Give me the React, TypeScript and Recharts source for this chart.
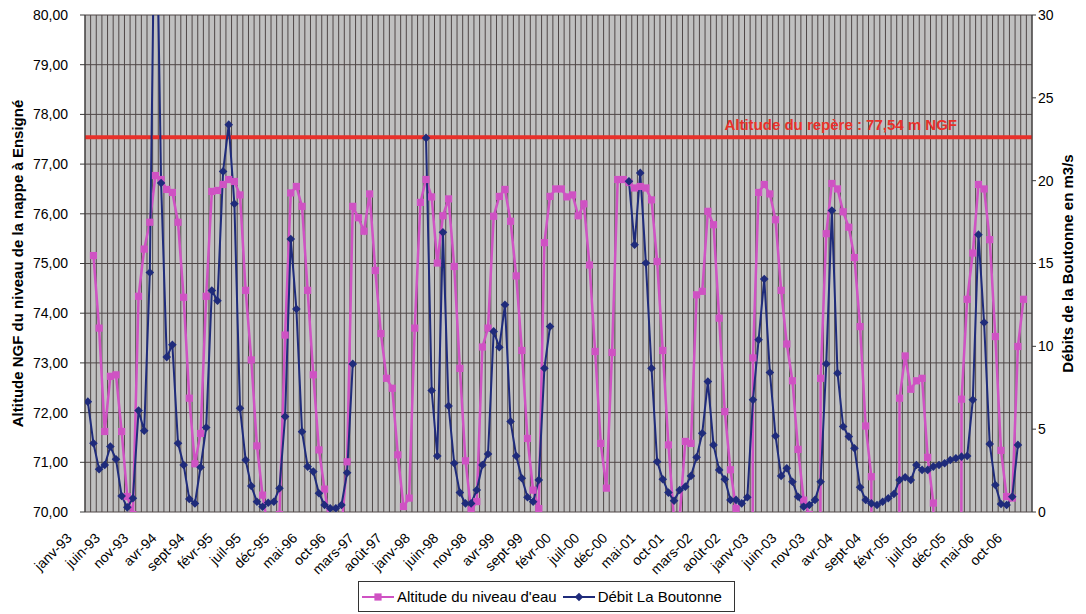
import React from 'react';
import { CartesianGrid, Legend, Line, LineChart, ReferenceLine, XAxis, YAxis } from 'recharts';

// Nappe d'Ensigné : altitude piézométrique (axe gauche) et débit de la Boutonne (axe droit),
// relevés mensuels janv-93 → déc-06, avec la cote du repère en rouge.

const FONT = '"Liberation Sans", Arial, sans-serif';
const PINK = '#CF52C3';
const NAVY = '#1F2B7B';
const RED = '#E8302A';
const PLOT_BG = '#C0C0C0';
const GRID = '#4f4747';
const AXIS = '#3a3a3a';

const MOIS = ['janv', 'févr', 'mars', 'avr', 'mai', 'juin', 'juil', 'août', 'sept', 'oct', 'nov', 'déc'];
const ANNEES = ['93', '94', '95', '96', '97', '98', '99', '00', '01', '02', '03', '04', '05', '06'];
const MONTHS = ANNEES.flatMap((a) => MOIS.map((m) => `${m}-${a}`));

// Altitude du niveau d'eau (m NGF) ; 0 = relevé manquant saisi à zéro
const ALTITUDE: (number | null)[] = [
  null, 75.16, 73.7, 71.62, 72.73, 72.76, 71.62, 70.31, 69.95, 74.34, 75.29, 75.83,
  76.77, 76.69, 76.49, 76.43, 75.83, 74.32, 72.29, 70.97, 71.58, 74.34, 76.45, 76.47,
  76.59, 76.69, 76.65, 76.38, 74.46, 73.06, 71.33, 70.34, 69.66, 69.6, 69.95, 73.56,
  76.42, 76.55, 76.15, 74.46, 72.76, 71.25, 70.46, 69.7, 69.6, 69.66, 71.01, 76.15,
  75.92, 75.65, 76.4, 74.86, 73.59, 72.69, 72.49, 71.15, 70.11, 70.28, 73.7, 76.23,
  76.69, 76.34, 75.01, 75.96, 76.3, 74.94, 72.89, 71.03, 70.04, 70.21, 73.32, 73.7,
  75.95, 76.35, 76.49, 75.85, 74.75, 73.25, 71.48, 70.44, 70.07, 75.42, 76.35, 76.5,
  76.5, 76.34, 76.38, 75.96, 76.2, 74.97, 73.23, 71.38, 70.48, 73.21, 76.69, 76.69,
  76.63, 76.52, 76.55, 76.52, 76.28, 75.04, 73.25, 71.35, 69.85, 69.9, 71.42, 71.38,
  74.37, 74.44, 76.05, 75.78, 73.9, 72.02, 70.85, 70.07, 0, 0, 73.1, 76.43,
  76.59, 76.4, 75.88, 74.46, 73.38, 72.64, 71.26, 70.24, 69.95, 0, 72.69, 75.6,
  76.61, 76.5, 76.04, 75.73, 75.12, 73.73, 71.73, 70.71, 0, 0, 0, 0,
  72.29, 73.14, 72.47, 72.64, 72.69, 71.1, 70.18, 0, 0, 0, 0, 72.27,
  74.28, 75.21, 76.59, 76.5, 75.48, 73.53, 71.24, 70.31, 70.28, 73.33, 74.28, null,
];

// Débit La Boutonne (m3/s)
const DEBIT: (number | null)[] = [
  6.66, 4.15, 2.58, 2.84, 3.95, 3.18, 0.97, 0.28, 0.83, 6.12, 4.91, 14.46,
  41, 19.86, 9.35, 10.09, 4.15, 2.84, 0.79, 0.52, 2.7, 5.1, 13.37, 12.75,
  20.56, 23.38, 18.61, 6.26, 3.14, 1.57, 0.62, 0.32, 0.56, 0.62, 1.43, 5.76,
  16.48, 12.25, 4.85, 2.74, 2.44, 1.13, 0.42, 0.22, 0.22, 0.42, 2.37, 8.94,
  null, null, null, null, null, null, null, null, null, null, null, null,
  22.58, 7.33, 3.38, 16.88, 6.4, 2.94, 1.17, 0.52, 0.52, 1.33, 2.84, 3.5,
  10.9, 9.95, 12.51, 5.46, 3.38, 2.04, 0.89, 0.62, 1.93, 8.68, 11.2, null,
  null, null, null, null, null, null, null, null, null, null, null, null,
  19.96, 16.13, 20.47, 15.03, 8.68, 3.04, 1.98, 1.17, 0.68, 1.33, 1.53, 2.18,
  3.3, 4.75, 7.87, 4.05, 2.54, 1.98, 0.73, 0.73, 0.52, 0.89, 6.77, 10.4,
  14.06, 8.42, 4.59, 2.18, 2.64, 1.83, 0.92, 0.32, 0.42, 0.73, 1.83, 8.94,
  18.2, 8.38, 5.16, 4.55, 3.85, 1.49, 0.73, 0.52, 0.42, 0.62, 0.83, 1.09,
  1.93, 2.1, 1.93, 2.84, 2.54, 2.54, 2.74, 2.84, 2.94, 3.14, 3.24, 3.34,
  3.38, 6.77, 16.74, 11.44, 4.11, 1.63, 0.48, 0.42, 0.92, 4.05, null, null,
];

const ALT_TICKS = [70, 71, 72, 73, 74, 75, 76, 77, 78, 79, 80];
const DEBIT_TICKS = [0, 5, 10, 15, 20, 25, 30];
const REPERE = 77.54;

const N = MONTHS.length;
const LABEL_TICKS = MONTHS.map((_, i) => i).filter((i) => i % 5 === 0);
const CELL_EDGES = Array.from({ length: N + 1 }, (_, k) => k - 0.5);
const X_DOMAIN = [-0.5, N - 0.5];

const data = MONTHS.map((mois, i) => ({ idx: i, mois, altitude: ALTITUDE[i], debit: DEBIT[i] }));

const fr = (v: number, d: number) => v.toFixed(d).replace('.', ',');

const NoLabel = () => <g />;

const Square = (p: any) => {
  if (p.cx == null || p.cy == null) return <g key={`sq-${p.index}`} />;
  return <rect key={`sq-${p.index}`} x={p.cx - 3.6} y={p.cy - 3.6} width={7.2} height={7.2} fill={PINK} />;
};

const Diamond = (p: any) => {
  if (p.cx == null || p.cy == null) return <g key={`dm-${p.index}`} />;
  const { cx, cy } = p;
  return (
    <polygon
      key={`dm-${p.index}`}
      points={`${cx},${cy - 4.3} ${cx + 4.3},${cy} ${cx},${cy + 4.3} ${cx - 4.3},${cy}`}
      fill={NAVY}
    />
  );
};

function RepereLabel({ viewBox }: any) {
  if (!viewBox) return null;
  return (
    <text
      x={viewBox.x + viewBox.width - 75}
      y={viewBox.y - 7}
      textAnchor="end"
      fill={RED}
      fontWeight="bold"
      fontSize={15}
      fontFamily={FONT}
    >
      {`Altitude du repère : ${fr(REPERE, 2)} m NGF`}
    </text>
  );
}

function LegendBox({ payload }: any) {
  return (
    <div
      style={{
        display: 'inline-flex',
        alignItems: 'center',
        border: '1px solid #333',
        background: '#fff',
        padding: '6px 6px 6px 3px',
        fontFamily: FONT,
        fontSize: 15,
        color: '#000',
        whiteSpace: 'nowrap',
      }}
    >
      {(payload ?? []).map((e: any) => (
        <span key={e.value} style={{ display: 'inline-flex', alignItems: 'center', marginRight: 6 }}>
          <svg width={32} height={10}>
            <line x1={0} y1={5} x2={32} y2={5} stroke={e.color} strokeWidth={2} />
            {e.dataKey === 'altitude' ? (
              <rect x={12.4} y={1.4} width={7.2} height={7.2} fill={e.color} />
            ) : (
              <polygon points="16,0.7 20.3,5 16,9.3 11.7,5" fill={e.color} />
            )}
          </svg>
          <span style={{ marginLeft: 3 }}>{e.value}</span>
        </span>
      ))}
    </div>
  );
}

const axisTitle = { textAnchor: 'middle', fontWeight: 'bold', fontSize: 15, fill: '#000', fontFamily: FONT } as const;

export default function App() {
  return (
    <div style={{ position: 'absolute', left: 0, top: 0, width: 1086, height: 614, background: '#fff' }}>
      <LineChart width={1086} height={614} data={data} margin={{ top: 15, right: 0, bottom: 0, left: 0 }}>
        <CartesianGrid xAxisId="cells" yAxisId="alt" fill={PLOT_BG} fillOpacity={1} stroke={GRID} strokeWidth={1} />
        {/* month boundaries: grid lines and the small ticks under the axis */}
        <XAxis
          xAxisId="cells"
          dataKey="idx"
          type="number"
          domain={X_DOMAIN}
          allowDataOverflow
          ticks={CELL_EDGES}
          interval={0}
          height={0}
          tick={NoLabel}
          tickSize={4}
          tickLine={{ stroke: AXIS }}
          axisLine={{ stroke: AXIS }}
        />
        <XAxis
          xAxisId="m"
          dataKey="idx"
          type="number"
          domain={X_DOMAIN}
          allowDataOverflow
          ticks={LABEL_TICKS}
          interval={0}
          height={102}
          tickFormatter={(v: number) => MONTHS[v] ?? ''}
          angle={-45}
          textAnchor="end"
          tickLine={false}
          axisLine={false}
          tickSize={0}
          tickMargin={20}
          tick={{ fontSize: 14, fill: '#000', fontFamily: FONT, dx: -22 }}
        />
        <YAxis
          yAxisId="alt"
          domain={[70, 80]}
          allowDataOverflow
          ticks={ALT_TICKS}
          interval={0}
          width={85}
          tickFormatter={(v: number) => fr(v, 2)}
          tickSize={5}
          tickMargin={12}
          tick={{ fontSize: 14, fill: '#000', fontFamily: FONT }}
          tickLine={{ stroke: AXIS }}
          axisLine={{ stroke: AXIS }}
          label={{
            value: 'Altitude NGF du niveau de la nappe à Ensigné',
            angle: -90,
            position: 'insideLeft',
            offset: 18,
            style: axisTitle,
          }}
        />
        <YAxis
          yAxisId="deb"
          orientation="right"
          domain={[0, 30]}
          allowDataOverflow
          ticks={DEBIT_TICKS}
          interval={0}
          width={54}
          tickSize={4}
          tickMargin={2}
          tick={{ fontSize: 14, fill: '#000', fontFamily: FONT }}
          tickLine={{ stroke: AXIS }}
          axisLine={{ stroke: AXIS }}
          label={{
            value: 'Débits de la Boutonne en m3/s',
            angle: -90,
            position: 'insideRight',
            offset: 18,
            style: axisTitle,
          }}
        />
        <ReferenceLine yAxisId="alt" xAxisId="m" y={REPERE} stroke={RED} strokeWidth={4} label={<RepereLabel />} />
        <Line
          xAxisId="m"
          yAxisId="alt"
          dataKey="altitude"
          name="Altitude du niveau d'eau"
          stroke={PINK}
          strokeWidth={2.5}
          dot={Square}
          activeDot={false}
          isAnimationActive={false}
        />
        <Line
          xAxisId="m"
          yAxisId="deb"
          dataKey="debit"
          name="Débit La Boutonne"
          stroke={NAVY}
          strokeWidth={2}
          dot={Diamond}
          activeDot={false}
          isAnimationActive={false}
        />
        <Legend
          layout="horizontal"
          verticalAlign="middle"
          align="center"
          content={<LegendBox />}
          wrapperStyle={{ left: 358, top: 581, width: 'auto', height: 'auto' }}
        />
      </LineChart>
    </div>
  );
}
